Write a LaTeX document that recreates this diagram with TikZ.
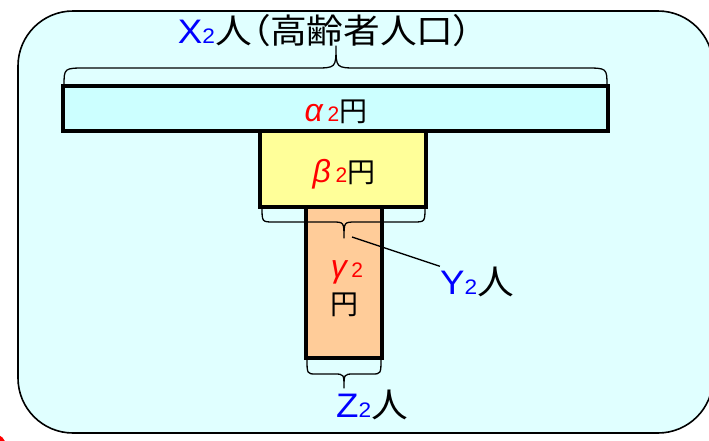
\documentclass[tikz,border=0pt]{standalone}
\usepackage{fontspec}
\setmainfont{Liberation Sans}
\newfontfamily\jp[RawFeature=+palt]{Noto Sans CJK JP}
\usepackage{graphicx}
\definecolor{outerbg}{HTML}{E0FFFF}
\definecolor{barA}{HTML}{CCFFFF}
\definecolor{barB}{HTML}{FFFF99}
\definecolor{barC}{HTML}{FFCC99}
\definecolor{tblue}{HTML}{0000FF}
\definecolor{tred}{HTML}{FF0000}
\newcommand{\subtwo}[1]{{\upshape\fontsize{21}{21}\selectfont #1}}
\newcommand{\bigtxt}{\fontsize{34}{34}\selectfont}
\newcommand{\midtxt}{\fontsize{28}{28}\selectfont}
\newcommand{\grk}[1]{{\itshape\fontsize{32}{32}\selectfont #1}}
\tikzset{
  barbox/.style={draw=black, line width=3.6pt, inner sep=0pt},
  bracepath/.style={draw=black, line width=1.3pt, line join=round},
  lbl/.style={inner sep=0pt, anchor=base},
  leader/.style={draw=black, line width=1.4pt},
}
\begin{document}
\begin{tikzpicture}[x=1pt,y=-1pt]
\useasboundingbox (0,0) rectangle (709,440);
\clip (0,0) rectangle (709,440);
% outer rounded panel
\draw[fill=outerbg, line width=1.6pt, rounded corners=55pt] (18,11) rectangle (713,433);
% small red fragment at the lower left
\fill[tred] (-6,446) circle (12);
% boxes
\node[barbox, fill=barC, minimum width=76pt, minimum height=151pt] (gam) at (344,282.5) {};
\node[barbox, fill=barB, minimum width=166pt, minimum height=76pt] (bet) at (343,169) {};
\node[barbox, fill=barA, minimum width=545pt, minimum height=45pt] (alp) at (335.5,108.5) {};
% braces
\draw[bracepath] (64,86) .. controls (64,68) .. (86,68) -- (314,68) .. controls (336,68) .. (336,46)
  .. controls (336,68) .. (358,68) -- (585,68) .. controls (607,68) .. (607,86);
\draw[bracepath] (262,207) .. controls (262,222) .. (274,222) -- (332,222) .. controls (344,222) .. (344,238)
  .. controls (344,222) .. (356,222) -- (413,222) .. controls (425,222) .. (425,207);
\draw[bracepath] (307,358) .. controls (307,374) .. (316,374) -- (334,374) .. controls (344,374) .. (344,388)
  .. controls (344,374) .. (354,374) -- (372,374) .. controls (381,374) .. (381,358);
\coordinate (ytip) at (352,237);
% labels
\node[lbl] (title) at (325,43) {\scalebox{1.08}[1]{\bigtxt\textcolor{tblue}{X\subtwo{2}}{\jp 人（高齢者人口）}}};
\node[lbl] (alab) at (336,121) {\midtxt\textcolor{tred}{\grk{α}\,\subtwo{2}}{\jp 円}};
\node[lbl] (blab) at (344,182) {\midtxt\textcolor{tred}{\grk{β}\,\subtwo{2}}{\jp 円}};
\node[lbl] (clab) at (347,277) {\midtxt\textcolor{tred}{\grk{γ}\,\subtwo{2}}};
\node[lbl] (clab2) at (344,314) {\midtxt{\jp 円}};
\node[lbl] (ylab) at (477,294) {\scalebox{1.08}[1]{\bigtxt\textcolor{tblue}{Y\subtwo{2}}{\jp 人}}};
\node[lbl] (zlab) at (372,417) {\scalebox{1.08}[1]{\bigtxt\textcolor{tblue}{Z\subtwo{2}}{\jp 人}}};
\draw[leader] (ytip) -- (ylab.north west);
\end{tikzpicture}
\end{document}
